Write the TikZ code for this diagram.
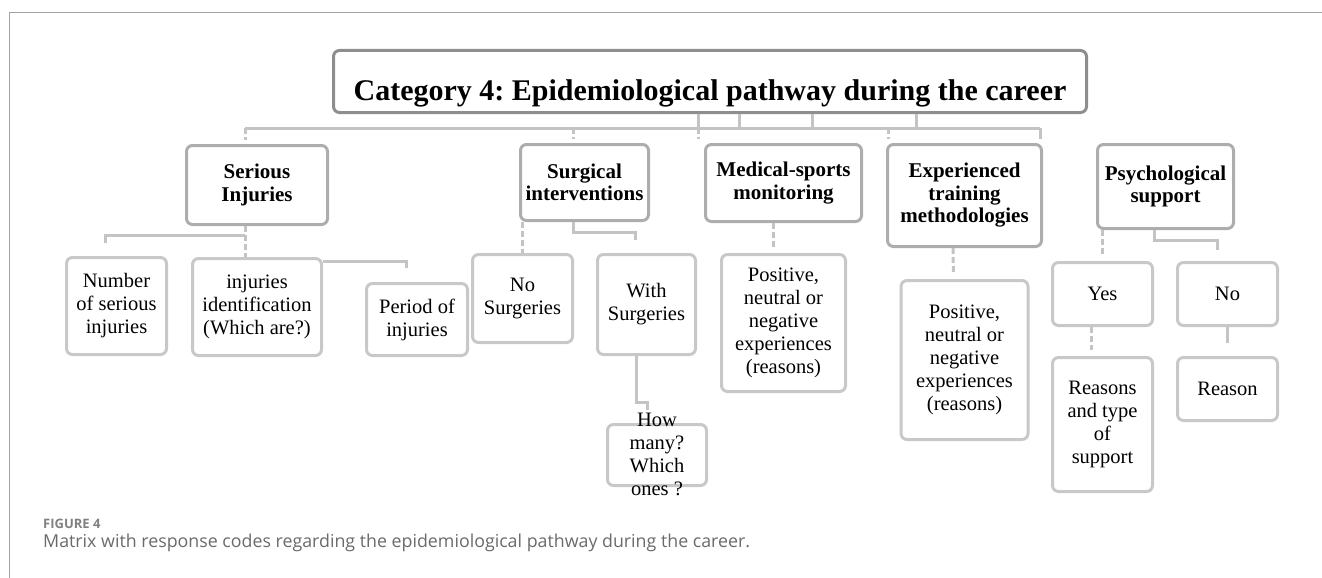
\documentclass[tikz,border=0pt]{standalone}
\usepackage{fontspec}
\setmainfont{Liberation Serif}
\newfontfamily\capfont{Open Sans}
\usetikzlibrary{positioning}
\frenchspacing
\definecolor{framegray}{HTML}{A3A3A3}
\definecolor{titlegray}{HTML}{8E8E8E}
\definecolor{headgray}{HTML}{ADADAD}
\definecolor{leafgray}{HTML}{C8C8C8}
\definecolor{linkgray}{HTML}{C4C4C4}
\definecolor{capgray}{HTML}{6A6A6A}
\tikzset{
    %Define style for boxes
    catbox/.style={
           rectangle,
           rounded corners=6pt,
           draw=titlegray, line width=3pt,
           font=\bfseries\fontsize{30}{34}\selectfont,
           text height=37pt, text depth=0pt,
           text centered},
    headbox/.style={
           rectangle,
           rounded corners=6pt,
           draw=headgray, line width=3pt,
           inner sep=2pt,
           font=\bfseries\fontsize{21}{22.5}\selectfont,
           align=center},
    leafbox/.style={
           rectangle,
           rounded corners=6pt,
           draw=leafgray, line width=3pt,
           inner sep=2pt,
           font=\fontsize{20.5}{23}\selectfont,
           align=center},
    % Define connector style
    link/.style={
           draw=linkgray,
           line width=3pt},
    dlink/.style={
           link,
           dash pattern=on 6pt off 3pt}
}
\begin{document}
\begin{tikzpicture}[x=1pt,y=-1pt]
\useasboundingbox (0,0) rectangle (1322,578);
\draw[framegray, line width=1pt] (1322,13) -- (9,13) -- (9,578);

 %nodes
\node[catbox, minimum width=753pt, minimum height=62pt] (cat) at (710,81.5)
    {Category 4: Epidemiological pathway during the career};

\node[headbox, minimum width=141pt, minimum height=79pt] (si) at (257,185) {Serious\\Injuries};
\node[headbox, minimum width=128pt, minimum height=76pt] (surg) at (584.5,182.5) {Surgical\\interventions};
\node[headbox, minimum width=156pt, minimum height=77pt] (med) at (783.5,183) {Medical-sports\\monitoring};
\node[headbox, minimum width=154pt, minimum height=102pt] (exp) at (964.5,195.5) {Experienced\\training\\methodologies};
\node[headbox, minimum width=136pt, minimum height=84pt] (psy) at (1165.5,186.5) {Psychological\\support};

\node[leafbox, minimum width=100pt, minimum height=97pt] (num) at (116.5,306) {Number\\of serious\\injuries};
\node[leafbox, minimum width=129pt, minimum height=97pt] (ident) at (257,307) {injuries\\identification\\(Which are?)};
\node[leafbox, minimum width=101pt, minimum height=72pt] (period) at (417,319.5) {Period of\\injuries};
\node[leafbox, minimum width=100pt, minimum height=88pt] (nos) at (522.5,298.5) {No\\Surgeries};
\node[leafbox, minimum width=98pt, minimum height=100pt] (withs) at (646.5,304.5) {With\\Surgeries};
\node[leafbox, minimum width=99pt, minimum height=61pt, below=67pt of withs, xshift=10.5pt] (howm)
    {\smash{\raisebox{-5pt}{\parbox[c]{95pt}{\centering How\\many?\\Which\\ones ?}}}};
\node[leafbox, minimum width=124pt, minimum height=137pt, below=30pt of med] (posm)
    {Positive,\\neutral or\\negative\\experiences\\(reasons)};
\node[leafbox, minimum width=127pt, minimum height=159pt, below=31pt of exp] (pose)
    {Positive,\\neutral or\\negative\\experiences\\(reasons)};
\node[leafbox, minimum width=100pt, minimum height=63pt] (yes) at (1102.5,294) {Yes};
\node[leafbox, minimum width=100pt, minimum height=63pt, right=22pt of yes] (no) {No};
\node[leafbox, minimum width=100pt, minimum height=134pt, below=29pt of yes] (reasons) {Reasons\\and type\\of\\support};
\node[leafbox, minimum width=100pt, minimum height=63pt, below=29pt of no] (reason) {Reason};

 %bus below the title
\coordinate (jsi) at (245,128);
\coordinate (jsu) at (573,128);
\coordinate (jme) at (698,128);
\coordinate (jex) at (888,128);
\coordinate (jend) at (1040,128);
\draw[link] (jsi) -- (jend);
\foreach \x [count=\i] in {698,739,812,916}{
  \coordinate (t\i) at (\x,128);
  \draw[link] (cat.south -| t\i) -- (t\i);
}
\draw[dlink, shorten >=4pt] (jsi) -- (jsi |- si.north);
\draw[dlink, shorten >=4pt] (jsu) -- (jsu |- surg.north);
\draw[dlink, shorten >=4pt] (jme) -- (jme |- med.north);
\draw[dlink, shorten >=4pt] (jex) -- (jex |- exp.north);
\draw[link, shorten >=4pt] (jend) -- (jend |- exp.north);

 %serious injuries
\draw[dlink] (si.south -| jsi) -- (jsi |- ident.north);
\draw[link, shorten >=13pt] (si.south -| jsi) ++(0,9) -| ([xshift=-11.5pt]num.north);
\draw[link, shorten >=14pt] ([yshift=-4pt]ident.north east) -| ([xshift=-11pt]period.north);

 %surgical interventions
\draw[dlink] (surg.south -| nos.north) -- (nos.north);
\draw[link, shorten >=13pt] ([xshift=-11.5pt]surg.south) -- ++(0,10) -| ([xshift=-11.5pt]withs.north);
\draw[link, shorten >=13pt] ([xshift=-10.5pt]withs.south) -- ++(0,46) -| ([xshift=-10pt]howm.north);

 %monitoring and methodologies
\draw[dlink, shorten >=6pt] ([xshift=-10.5pt]med.south) -- ([xshift=-10.5pt]posm.north);
\draw[dlink, shorten >=6pt] ([xshift=-11.5pt]exp.south) -- ([xshift=-11pt]pose.north);

 %psychological support
\draw[dlink, shorten >=6pt] (psy.south -| yes.north) -- (yes.north);
\draw[link, shorten >=11pt] ([xshift=-11.5pt]psy.south) -- ++(0,10) -| ([xshift=-10.5pt]no.north);
\draw[dlink, shorten >=6pt] ([xshift=-11.5pt]yes.south) -- ([xshift=-11.5pt]reasons.north);
\draw[link, shorten >=13pt] (no.south) -- (reason.north);

 %caption
\node[anchor=base west, inner sep=0pt, text=capgray!85, font=\capfont\bfseries\fontsize{13}{15}\selectfont] (fig) at (43,528) {FIGURE 4};
\node[anchor=base west, inner sep=0pt, text=capgray, font=\capfont\fontsize{17.8}{20}\selectfont] (cap) at (43,547)
    {Matrix with response codes regarding the epidemiological pathway during the career.};
\end{tikzpicture}
\end{document}
